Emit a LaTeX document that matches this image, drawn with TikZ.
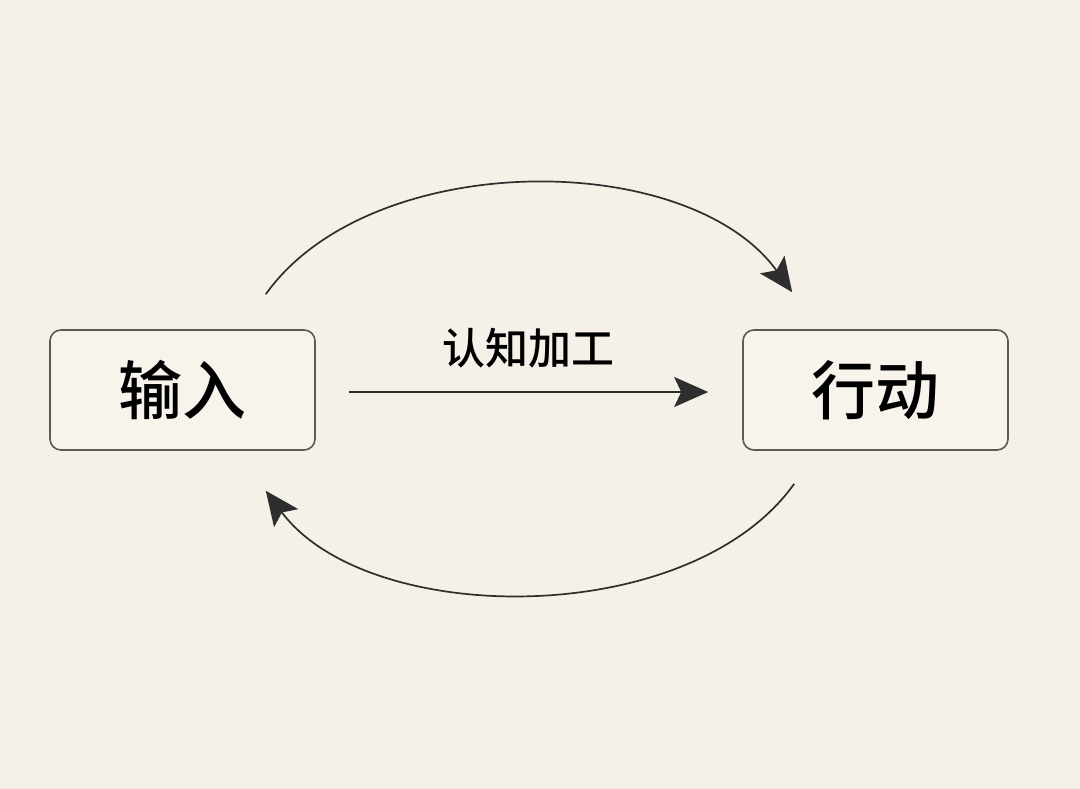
\documentclass[tikz,border=0pt]{standalone}
\usepackage{fontspec}
\newfontfamily\cjk[UprightFont=* Medium]{Noto Sans CJK SC}
\usetikzlibrary{arrows.meta,calc}
\definecolor{bgc}{HTML}{F5F1E9}
\definecolor{boxfill}{HTML}{F8F4EC}
\definecolor{boxline}{HTML}{5A5A5A}
\definecolor{inkc}{HTML}{2E2E2E}
\tikzset{
  box/.style={draw=boxline, line width=1.6pt, fill=boxfill, rounded corners=11pt,
    minimum width=265pt, minimum height=120pt, inner sep=0pt,
    font=\cjk\fontsize{64}{64}\selectfont, text=black},
  lbl/.style={font=\cjk\fontsize{43}{43}\selectfont, text=black, inner sep=0pt},
  conn/.style={draw=inkc, line width=1.7pt, -{Stealth[length=34pt,width=30pt,inset=7pt]}},
}
\begin{document}
\begin{tikzpicture}[x=1pt,y=-1pt]
\fill[bgc] (0,0) rectangle (1080,789);
\useasboundingbox (0,0) rectangle (1080,789);
\node[box] (in) at (182.5,390) {输入};
\node[box] (act) at (875.5,390) {行动};
\node[lbl] (proc) at (528,348) {认知加工};
\coordinate (s1) at ($(in.east)+(33,2)$);
\coordinate (e1) at ($(act.west)+(-34,2)$);
\draw[conn, line width=2.3pt] (s1) -- (e1);
\coordinate (ts) at ($(in.north east)+(-50,-35)$);
\coordinate (te) at ($(act.north west)+(50,-37)$);
\draw[conn] (ts) .. controls (370,148) and (688,148) .. (te);
\coordinate (bs) at ($(act.south west)+(52,33)$);
\coordinate (be) at ($(in.south east)+(-50,40)$);
\draw[conn] (bs) .. controls (690,630) and (368,628) .. (be);
\end{tikzpicture}
\end{document}
